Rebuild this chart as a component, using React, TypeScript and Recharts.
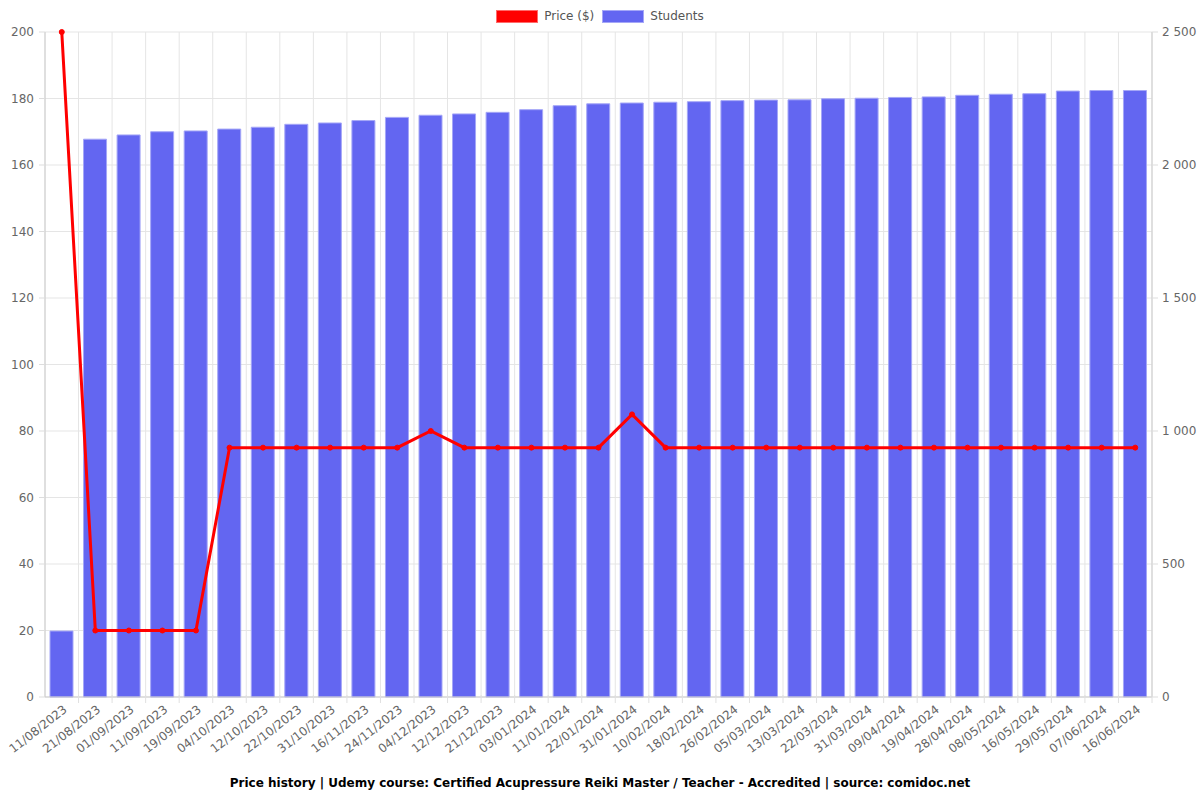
import React from "react";
import {
  ComposedChart,
  Bar,
  Line,
  XAxis,
  YAxis,
  CartesianGrid,
} from "recharts";

const dates = [
  "11/08/2023", "21/08/2023", "01/09/2023", "11/09/2023", "19/09/2023", "04/10/2023",
  "12/10/2023", "22/10/2023", "31/10/2023", "16/11/2023", "24/11/2023", "04/12/2023",
  "12/12/2023", "21/12/2023", "03/01/2024", "11/01/2024", "22/01/2024", "31/01/2024",
  "10/02/2024", "18/02/2024", "26/02/2024", "05/03/2024", "13/03/2024", "22/03/2024",
  "31/03/2024", "09/04/2024", "19/04/2024", "28/04/2024", "08/05/2024", "16/05/2024",
  "29/05/2024", "07/06/2024", "16/06/2024",
];

const prices = [
  200, 20, 20, 20, 20, 75, 75, 75, 75, 75, 75, 80, 75, 75, 75, 75, 75, 85,
  75, 75, 75, 75, 75, 75, 75, 75, 75, 75, 75, 75, 75, 75, 75,
];

const students = [
  248, 2097, 2113, 2125, 2128, 2135, 2142, 2153, 2158, 2167, 2179, 2187, 2192,
  2198, 2208, 2223, 2230, 2233, 2236, 2238, 2242, 2244, 2245, 2249, 2251, 2254,
  2256, 2262, 2266, 2268, 2278, 2280, 2280,
];

const priceTicks = [0, 20, 40, 60, 80, 100, 120, 140, 160, 180, 200];
const studentTicks = [0, 500, 1000, 1500, 2000, 2500];

const data = dates.map((d, i) => ({ date: d, price: prices[i], students: students[i] }));

const W = 1200;
const H = 800;
const LEFT_W = 45;
const RIGHT_W = 48;
const FONT = "'DejaVu Sans', sans-serif";
const BAND = (W - LEFT_W - RIGHT_W) / dates.length;

const fmt = (v: number) => String(v).replace(/\B(?=(\d{3})+(?!\d))/g, " ");

const XTick = (props: any) => {
  const { x, y, payload } = props;
  return (
    <g>
      <line x1={x + BAND / 2} x2={x + BAND / 2} y1={y - 10} y2={y - 2} stroke="#e0e0e0" />
      <text
        x={x + 6}
        y={y + 6}
        textAnchor="end"
        fill="#666"
        fontSize={12}
        fontFamily={FONT}
        transform={`rotate(-38, ${x + 6}, ${y + 6})`}
      >
        {payload.value}
      </text>
    </g>
  );
};

const legendItems = [
  { label: "Price ($)", fill: "#ff0000", border: "#ff6b6b" },
  { label: "Students", fill: "#6366f1", border: "#a5a7f7" },
];

export default function App() {
  return (
    <div style={{ position: "absolute", left: 0, top: 0, width: W, height: H, background: "#fff" }}>
      <div
        style={{
          position: "absolute",
          top: 8,
          left: 0,
          width: W,
          display: "flex",
          justifyContent: "center",
          alignItems: "center",
          fontFamily: FONT,
          fontSize: 12,
          color: "#555",
          gap: 8,
          lineHeight: "16px",
        }}
      >
        {legendItems.map((it) => (
          <span key={it.label} style={{ display: "flex", alignItems: "center" }}>
            <span
              style={{
                display: "inline-block",
                width: 42,
                height: 13,
                background: it.fill,
                marginRight: 6,
                border: `1px solid ${it.border}`,
                boxSizing: "border-box",
              }}
            />
            {it.label}
          </span>
        ))}
      </div>
      <ComposedChart
        width={W}
        height={H}
        data={data}
        margin={{ top: 32, right: 0, left: 0, bottom: 33 }}
      >
        <CartesianGrid
          stroke="#e5e5e5"
          yAxisId="price"
          verticalCoordinatesGenerator={({ offset }: any) =>
            dates.map((_, i) => offset.left + (i * offset.width) / dates.length).concat([offset.left + offset.width])
          }
        />
        <XAxis
          dataKey="date"
          interval={0}
          height={70}
          tickLine={false}
          axisLine={{ stroke: "#ccc" }}
          tick={<XTick />}
        />
        <YAxis
          yAxisId="price"
          orientation="left"
          width={LEFT_W}
          domain={[0, 200]}
          ticks={priceTicks}
          tick={{ fill: "#666", fontSize: 12, fontFamily: FONT }}
          tickLine={{ stroke: "#ddd" }}
          axisLine={{ stroke: "#ccc" }}
          tickSize={6}
          tickMargin={5}
        />
        <YAxis
          yAxisId="students"
          orientation="right"
          width={RIGHT_W}
          domain={[0, 2500]}
          ticks={studentTicks}
          tickFormatter={fmt}
          tick={{ fill: "#666", fontSize: 12, fontFamily: FONT }}
          tickLine={{ stroke: "#ddd" }}
          axisLine={{ stroke: "#ccc" }}
          tickSize={6}
          tickMargin={4}
        />
        <Bar
          yAxisId="students"
          dataKey="students"
          name="Students"
          fill="#6366f1"
          stroke="#a5a7f7"
          strokeWidth={1}
          barSize={23}
          isAnimationActive={false}
        />
        <Line
          yAxisId="price"
          dataKey="price"
          name="Price ($)"
          type="linear"
          stroke="#ff0000"
          strokeWidth={3}
          dot={{ r: 2.5, fill: "#ff0000", stroke: "#ff0000", strokeWidth: 1 }}
          isAnimationActive={false}
        />
      </ComposedChart>
      <div
        style={{
          position: "absolute",
          left: 0,
          width: W,
          top: 776,
          textAlign: "center",
          fontFamily: FONT,
          fontWeight: "bold",
          fontSize: 12,
          color: "#000",
        }}
      >
        Price history | Udemy course: Certified Acupressure Reiki Master / Teacher - Accredited | source: comidoc.net
      </div>
    </div>
  );
}
